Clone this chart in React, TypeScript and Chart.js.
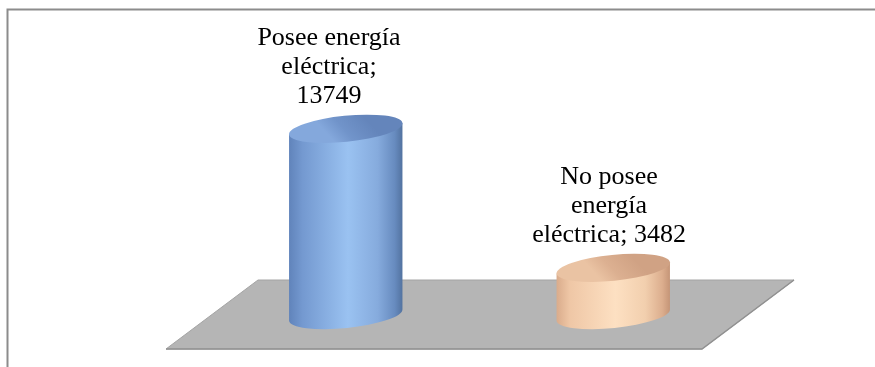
import React, { useEffect, useRef } from "react";
import { Chart, registerables } from "chart.js";

Chart.register(...registerables);

// Households by access to electric power
const CATEGORIES = ["Posee energía eléctrica", "No posee energía eléctrica"];
const VALUES = [13749, 3482];
// Wrapped data-label text; {value} is replaced with the bar's value
const LABEL_LINES = [
  ["Posee energía", "eléctrica;", "{value}"],
  ["No posee", "energía", "eléctrica; {value}"],
];
const AXIS_MAX = 22000;

const BODY_STOPS = [
  [
    [0, "#6083ba"],
    [0.12, "#7499d0"],
    [0.52, "#9ac2f1"],
    [0.78, "#86abdd"],
    [0.93, "#678bbf"],
    [1, "#52729f"],
  ],
  [
    [0, "#d9ab8b"],
    [0.12, "#efc7a6"],
    [0.52, "#fde0c2"],
    [0.78, "#f2cfae"],
    [0.93, "#dcae8e"],
    [1, "#c49476"],
  ],
];
const TOP_STOPS = [
  [
    [0, "#6485bb"],
    [0.6, "#7194ca"],
    [1, "#84a8dc"],
  ],
  [
    [0, "#d0a284"],
    [0.6, "#dcb091"],
    [1, "#eac3a3"],
  ],
];

const FONT = "26px 'Liberation Serif', 'Times New Roman', serif";
const LINE_HEIGHT = 29;

const framePlugin = {
  id: "frame",
  beforeDraw(chart: any) {
    const { ctx, width, height } = chart;
    ctx.save();
    ctx.fillStyle = "#ffffff";
    ctx.fillRect(0, 0, width, height);
    ctx.strokeStyle = "#8c8c8c";
    ctx.lineWidth = 2;
    ctx.beginPath();
    ctx.moveTo(7.5, height);
    ctx.lineTo(7.5, 9.5);
    ctx.lineTo(width, 9.5);
    ctx.stroke();
    ctx.restore();
  },
};

const floorPlugin = {
  id: "floor",
  beforeDatasetsDraw(chart: any) {
    const { ctx, chartArea } = chart;
    const yBase = chart.scales.y.getPixelForValue(0);
    const skew = 46;
    const top = yBase - 35;
    const bottom = yBase + 34;
    ctx.save();
    ctx.beginPath();
    ctx.moveTo(chartArea.left + skew, top);
    ctx.lineTo(chartArea.right + skew + 1, top);
    ctx.lineTo(chartArea.right - skew + 1, bottom);
    ctx.lineTo(chartArea.left - skew, bottom);
    ctx.closePath();
    ctx.fillStyle = "#b5b5b5";
    ctx.fill();
    ctx.strokeStyle = "#a4a4a4";
    ctx.lineWidth = 1;
    ctx.stroke();
    // darker front and right edges
    ctx.beginPath();
    ctx.moveTo(chartArea.right + skew + 1, top);
    ctx.lineTo(chartArea.right - skew + 1, bottom);
    ctx.lineTo(chartArea.left - skew, bottom);
    ctx.strokeStyle = "#919191";
    ctx.lineWidth = 1.5;
    ctx.stroke();
    ctx.restore();
  },
};

function gradient(ctx: any, x0: number, y0: number, x1: number, y1: number, stops: any[]) {
  const g = ctx.createLinearGradient(x0, y0, x1, y1);
  stops.forEach(([o, c]) => g.addColorStop(o, c));
  return g;
}

const cylinderPlugin = {
  id: "cylinders",
  afterDatasetsDraw(chart: any) {
    const { ctx } = chart;
    const meta = chart.getDatasetMeta(0);
    const ry = 13;
    const rot = -0.1;
    meta.data.forEach((el: any, i: number) => {
      const cx = el.x;
      const rx = el.width / 2;
      const yt = el.y;
      const yb = el.base;
      const dx = rx * Math.cos(rot);
      const dy = rx * Math.sin(rot);
      ctx.save();

      // body
      ctx.beginPath();
      ctx.moveTo(cx - dx, yt - dy);
      ctx.lineTo(cx - dx, yb - dy);
      ctx.ellipse(cx, yb, rx, ry, rot, Math.PI, 0, true);
      ctx.lineTo(cx + dx, yt + dy);
      ctx.closePath();
      ctx.fillStyle = gradient(ctx, cx - rx, 0, cx + rx, 0, BODY_STOPS[i]);
      ctx.fill();

      // top cap
      ctx.beginPath();
      ctx.ellipse(cx, yt, rx, ry, rot, 0, Math.PI * 2);
      ctx.fillStyle = gradient(ctx, cx + rx * 0.3, yt - ry, cx - rx * 0.2, yt + ry, TOP_STOPS[i]);
      ctx.fill();

      // data label, leaning slightly with the bar's height (3D view)
      const h = yb - yt;
      const lx = cx - h * 0.09;
      const lines = LABEL_LINES[i].map((s) => s.replace("{value}", String(VALUES[i])));
      ctx.font = FONT;
      ctx.fillStyle = "#000000";
      ctx.textAlign = "center";
      ctx.textBaseline = "alphabetic";
      const lastBaseline = yt - ry - 13;
      lines.forEach((t, k) => {
        ctx.fillText(t, lx, lastBaseline - (lines.length - 1 - k) * LINE_HEIGHT);
      });
      ctx.restore();
    });
  },
};

export default function App() {
  const canvasRef = useRef<HTMLCanvasElement | null>(null);

  useEffect(() => {
    document.body.style.margin = "0";
    const canvas = canvasRef.current;
    if (!canvas) return;
    const chart = new Chart(canvas, {
      type: "bar",
      data: {
        labels: CATEGORIES,
        datasets: [
          {
            data: VALUES,
            backgroundColor: "rgba(0,0,0,0)",
            borderWidth: 0,
            barPercentage: 0.426,
            categoryPercentage: 1,
          } as any,
        ],
      },
      options: {
        responsive: false,
        animation: false,
        devicePixelRatio: 1,
        layout: { padding: { left: 212, right: 128, top: 17, bottom: 52 } },
        plugins: {
          legend: { display: false },
          tooltip: { enabled: false },
          title: { display: false },
        },
        scales: {
          x: { display: false, offset: true },
          y: { display: false, min: 0, max: AXIS_MAX },
        },
      },
      plugins: [framePlugin, floorPlugin, cylinderPlugin],
    });
    return () => chart.destroy();
  }, []);

  return (
    <div style={{ position: "absolute", left: 0, top: 0, width: 875, height: 367 }}>
      <canvas ref={canvasRef} width={875} height={367} />
    </div>
  );
}
